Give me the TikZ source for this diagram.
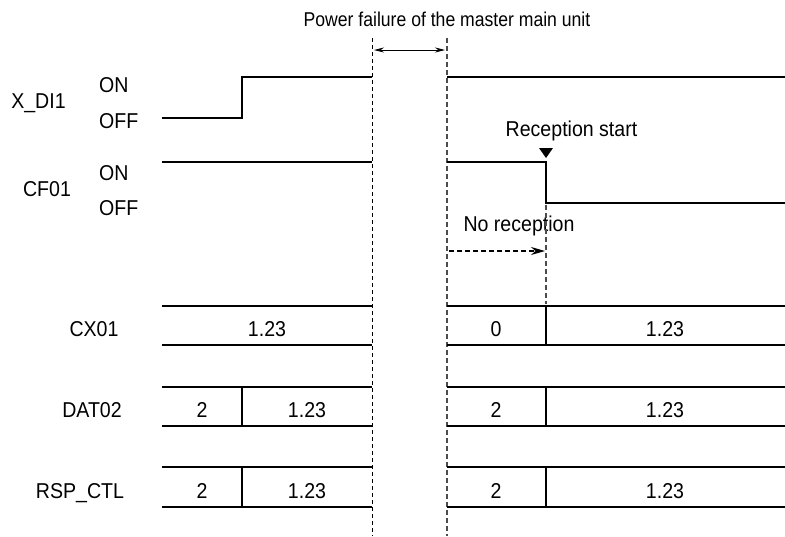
\documentclass[tikz,border=0pt]{standalone}
\usepackage{fontspec}
\setmainfont{Liberation Sans}
\newfontfamily\labfont[FakeStretch=0.91]{Liberation Sans}
\newfontfamily\titfont[FakeStretch=0.88]{Liberation Sans}
\usetikzlibrary{arrows.meta}
\begin{document}
\begin{tikzpicture}[x=1pt,y=-1pt,
  every node/.style={font=\labfont\fontsize{21.5}{24}\selectfont, inner sep=0pt},
  sig/.style={line width=2pt},
  cut/.style={line width=0.8pt, dash pattern=on 4pt off 3pt},
  cutg/.style={line width=1.1pt, draw=black!70, dash pattern=on 5pt off 3pt},
  txt/.style={anchor=base},
  lw/.style={anchor=base west}]
\useasboundingbox (0,0) rectangle (785,536);
% title
\node[txt, font=\titfont\fontsize{20}{24}\selectfont] (title) at (447,26.7) {Power failure of the master main unit};
% cut lines
\coordinate (cLt) at (372,38); \coordinate (cLb) at (372,536);
\coordinate (cRt) at (447,38); \coordinate (cRb) at (447,536);
\draw[cut] (cLt) -- (cLb);
\draw[cutg] (cRt) -- (cRb);
\coordinate (aL) at (374,50); \coordinate (aR) at (445,50);
\draw[{Stealth[length=10pt,width=5pt]}-{Stealth[length=10pt,width=5pt]}, line width=0.8pt] (aL) -- (aR);
% X_DI1
\node[txt] (xdi) at (38.5,108.3) {X\_DI1};
\node[lw] (xon) at (99,92.7) {ON};
\node[lw] (xoff) at (99,128.3) {OFF};
\coordinate (x0) at (162,118); \coordinate (x1) at (242,118);
\coordinate (x2) at (242,77); \coordinate (x3) at (372,77);
\coordinate (x4) at (447,77); \coordinate (x5) at (785,77);
\draw[sig] (x0) -- (x1) -- (x2) -- (x3);
\draw[sig] (x4) -- (x5);
% CF01
\node[txt] (cf) at (47,196.7) {CF01};
\node[lw] (con) at (99,180.7) {ON};
\node[lw] (coff) at (99,215) {OFF};
\coordinate (c0) at (162,162); \coordinate (c1) at (372,162);
\coordinate (c2) at (447,162); \coordinate (c3) at (546,162);
\coordinate (c4) at (546,203); \coordinate (c5) at (785,203);
\draw[sig] (c0) -- (c1);
\draw[sig] (c2) -- (c3) -- (c4) -- (c5);
% reception start
\node[txt] (rs) at (571.5,136) {Reception start};
\fill (539,148) -- (553,148) -- (546,158) -- cycle;
% no reception
\node[txt] (nr) at (519,231.7) {No reception};
\coordinate (n0) at (449,251); \coordinate (n1) at (545,251);
\draw[line width=1.4pt, dash pattern=on 5pt off 3pt, -{Stealth[length=14pt,width=8pt]}] (n0) -- (n1);
\coordinate (d0) at (546,205); \coordinate (d1) at (546,304);
\draw[cutg] (d0) -- (d1);
% CX01
\node[txt] (cxl) at (94,336) {CX01};
\draw[sig] (162,306) -- (372,306) (162,345) -- (372,345);
\draw[sig] (447,306) -- (785,306) (447,345) -- (785,345);
\draw[sig] (546,306) -- (546,345);
\node[txt] (cxa) at (267,336) {1.23};
\node[txt] (cxb) at (496,336) {0};
\node[txt] (cxc) at (665,336) {1.23};
% DAT02
\node[txt] (dal) at (92,417) {DAT02};
\draw[sig] (162,387) -- (372,387) (162,426) -- (372,426);
\draw[sig] (447,387) -- (785,387) (447,426) -- (785,426);
\draw[sig] (242,387) -- (242,426);
\draw[sig] (546,387) -- (546,426);
\node[txt] (daa) at (202,417) {2};
\node[txt] (dab) at (307,417) {1.23};
\node[txt] (dac) at (496,417) {2};
\node[txt] (dad) at (665,417) {1.23};
% RSP_CTL
\node[txt] (rsl) at (80,498) {RSP\_CTL};
\draw[sig] (162,467) -- (372,467) (162,507) -- (372,507);
\draw[sig] (447,467) -- (785,467) (447,507) -- (785,507);
\draw[sig] (242,467) -- (242,507);
\draw[sig] (546,467) -- (546,507);
\node[txt] (rsa) at (202,498) {2};
\node[txt] (rsb) at (307,498) {1.23};
\node[txt] (rsc) at (496,498) {2};
\node[txt] (rsd) at (665,498) {1.23};
\end{tikzpicture}
\end{document}
